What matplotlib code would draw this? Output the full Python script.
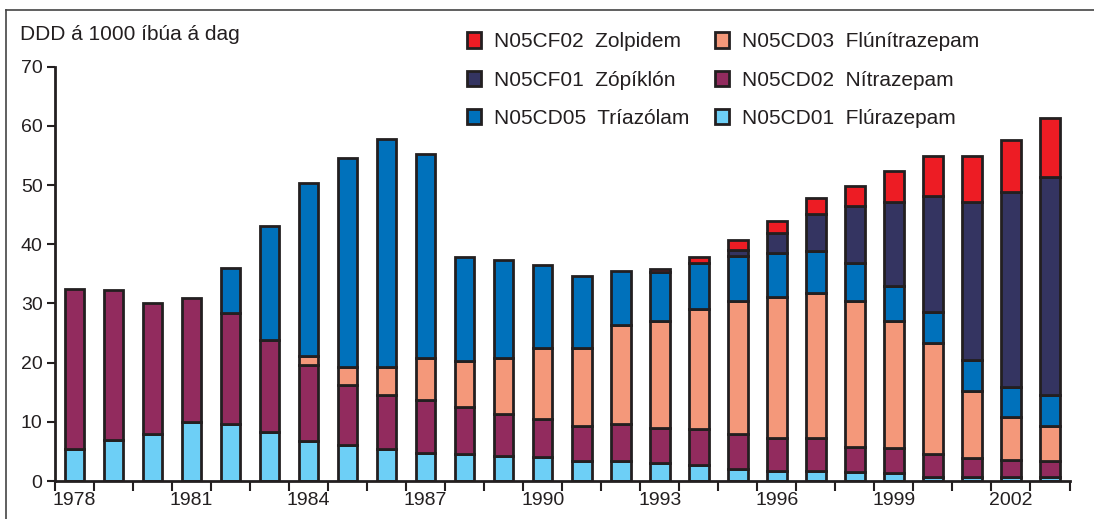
import numpy as np
import matplotlib.pyplot as plt
from matplotlib.lines import Line2D

years = list(range(1978, 2004))

# DDD per 1000 inhabitants per day, bottom to top of the stack
flurazepam = [5.4, 6.9, 8.0, 9.9, 9.6, 8.2, 6.8, 6.1, 5.4, 4.8, 4.6, 4.3, 4.1,
              3.4, 3.3, 3.0, 2.7, 2.1, 1.7, 1.7, 1.6, 1.4, 0.6, 0.6, 0.6, 0.6]
nitrazepam = [27.1, 25.3, 22.1, 21.0, 18.8, 15.7, 12.8, 10.1, 9.1, 8.9, 7.9, 7.1, 6.4,
              5.9, 6.4, 5.9, 6.1, 5.9, 5.5, 5.6, 4.2, 4.1, 3.9, 3.3, 2.9, 2.8]
flunitrazepam = [0, 0, 0, 0, 0, 0, 1.6, 3.0, 4.7, 7.0, 7.7, 9.3, 11.9,
                 13.1, 16.6, 18.1, 20.2, 22.4, 23.9, 24.5, 24.6, 21.5, 18.9, 11.3, 7.3, 5.9]
triazolam = [0, 0, 0, 0, 7.6, 19.2, 29.2, 35.4, 38.5, 34.6, 17.7, 16.6, 14.1,
             12.2, 9.2, 8.3, 7.8, 7.6, 7.4, 7.0, 6.5, 5.9, 5.1, 5.2, 5.1, 5.2]
zopiklon = [0] * 17 + [1.0, 3.4, 6.3, 9.5, 14.3, 19.7, 26.7, 32.9, 36.8]
zolpidem = [0] * 15 + [0.5, 1.0, 1.8, 2.1, 2.8, 3.5, 5.1, 6.7, 7.8, 8.8, 10.1]

series = [
    (flurazepam, "N05CD01  Flúrazepam", "#6dcff6"),
    (nitrazepam, "N05CD02  Nítrazepam", "#922b5e"),
    (flunitrazepam, "N05CD03  Flúnítrazepam", "#f4987a"),
    (triazolam, "N05CD05  Tríazólam", "#0071bb"),
    (zopiklon, "N05CF01  Zópíklón", "#343461"),
    (zolpidem, "N05CF02  Zolpidem", "#ed1c24"),
]

plt.rcParams['font.family'] = ['Liberation Sans', 'DejaVu Sans']
edge = "#231f20"
txt = "#231f20"

fig = plt.figure(figsize=(10.94, 5.19), dpi=100)
ax = fig.add_axes([55 / 1094, 1 - 481 / 519, (1069.5 - 55) / 1094, (481 - 66.7) / 519])

x = np.arange(len(years))
bottom = np.zeros(len(years))
handles = {}
for values, label, color in series:
    v = np.array(values, dtype=float)
    keep = v > 0
    bars = ax.bar(x[keep], v[keep], bottom=bottom[keep], width=0.5, color=color,
                  edgecolor=edge, linewidth=2, label=label)
    handles[label] = bars
    bottom += v

ax.set_xlim(-0.5, len(years) - 0.5)
ax.set_ylim(0, 70)
ax.set_yticks(range(0, 71, 10))
ax.set_xticks(x[::3])
ax.set_xticklabels([str(y) for y in years[::3]])
ax.set_xticks(np.arange(-0.5, len(years), 1.0), minor=True)
ax.tick_params(axis='x', which='major', length=0, pad=8, labelsize=14, colors=txt)
ax.tick_params(axis='x', which='minor', length=7, width=1.5, direction='out', colors=edge)
ax.tick_params(axis='y', length=6, width=1.5, labelsize=14, pad=3, colors=txt)
for s in ['top', 'right']:
    ax.spines[s].set_visible(False)
for s in ['left', 'bottom']:
    ax.spines[s].set_linewidth(2)
    ax.spines[s].set_color(edge)

fig.text(20 / 1094, 1 - 34 / 519, "DDD á 1000 íbúa á dag", fontsize=15,
         color=txt, va='center', ha='left')

order = ["N05CF02  Zolpidem", "N05CF01  Zópíklón", "N05CD05  Tríazólam",
         "N05CD03  Flúnítrazepam", "N05CD02  Nítrazepam", "N05CD01  Flúrazepam"]
leg = ax.legend([handles[k] for k in order], order, ncol=2, frameon=False,
                loc='upper left', bbox_to_anchor=(459 / 1094, 1 - 24 / 519),
                bbox_transform=fig.transFigure, fontsize=15,
                handlelength=0.67, handleheight=0.77, handletextpad=0.63,
                labelspacing=0.92, columnspacing=1.2, borderaxespad=0)
for t in leg.get_texts():
    t.set_color(txt)

# frame: only top and left edges are visible in the source
fig.add_artist(Line2D([6 / 1094, 1], [1 - 10 / 519] * 2, transform=fig.transFigure,
                      color='#444444', linewidth=1.2))
fig.add_artist(Line2D([6 / 1094] * 2, [0, 1 - 10 / 519], transform=fig.transFigure,
                      color='#444444', linewidth=1.2))

fig.savefig("out.png", dpi=100)
